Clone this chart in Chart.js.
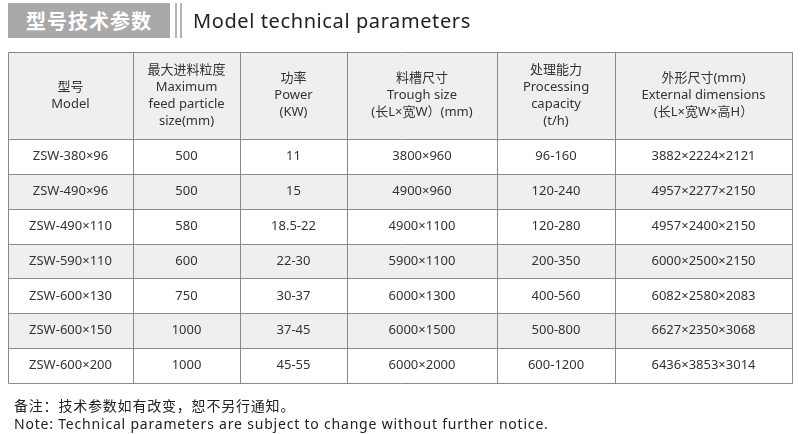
<!DOCTYPE html>
<html><head><meta charset="utf-8">
<script src="https://cdn.jsdelivr.net/npm/chart.js@4"></script>
<style>
body{margin:0;width:800px;height:434px;position:relative;background:#fff;font-family:"Noto Sans","Noto Sans CJK SC",sans-serif;color:#333;overflow:hidden}
#c{position:absolute;left:0;top:0}
.t1{position:absolute;left:8px;top:3px;width:162px;height:35px;background:#a9a9a9;color:#fff;font-size:20px;font-weight:bold;line-height:35px;text-align:center;letter-spacing:1px;font-family:"Noto Sans CJK SC",sans-serif}
.bar{position:absolute;top:3px;height:35px;width:2px;background:#b5b5b5}
.t2{position:absolute;left:193px;top:4px;font-size:20px;line-height:33px;color:#222;letter-spacing:0.6px}
.note{position:absolute;left:14px;font-size:14px;color:#222;letter-spacing:0.8px}
</style></head><body>
<canvas id="c" width="800" height="434"></canvas>
<div class="t1">型号技术参数</div><div class="bar" style="left:175px"></div><div class="bar" style="left:180px"></div>
<div class="t2">Model technical parameters</div>
<div class="note" style="top:395px">备注：技术参数如有改变，恕不另行通知。</div>
<div class="note" style="top:414px">Note: Technical parameters are subject to change without further notice.</div>
<script>
const headers=[["型号","Model"],["最大进料粒度","Maximum","feed particle","size(mm)"],["功率","Power","(KW)"],["料槽尺寸","Trough size","(长L×宽W）(mm)"],["处理能力","Processing","capacity","(t/h)"],["外形尺寸(mm)","External dimensions","(长L×宽W×高H）"]];
const models=["ZSW-380×96","ZSW-490×96","ZSW-490×110","ZSW-590×110","ZSW-600×130","ZSW-600×150","ZSW-600×200"];
const feedSize=["500","500","580","600","750","1000","1000"];
const power=["11","15","18.5-22","22-30","30-37","37-45","45-55"];
const trough=["3800×960","4900×960","4900×1100","5900×1100","6000×1300","6000×1500","6000×2000"];
const capacity=["96-160","120-240","120-280","200-350","400-560","500-800","600-1200"];
const external=["3882×2224×2121","4957×2277×2150","4957×2400×2150","6000×2500×2150","6082×2580×2083","6627×2350×3068","6436×3853×3014"];
const columns=[models,feedSize,power,trough,capacity,external];
// layout (column edges in x units, header height in row units)
const colEdges=[0,125,232,339,489,607,784];
const headerH=2.5;
const nRows=models.length;
const tablePlugin={id:'tbl',beforeDatasetsDraw(ch){
 const c=ch.ctx,x=ch.scales.x,y=ch.scales.y;
 const X=v=>Math.round(x.getPixelForValue(v))+0.5,Y=v=>Math.round(y.getPixelForValue(v))+0.5;
 c.save();
 c.fillStyle='#efefef';c.fillRect(X(0),Y(0),X(784)-X(0),Y(headerH)-Y(0));
 for(let r=0;r<nRows;r++){if(r%2===1){c.fillRect(X(0),Y(headerH+r),X(784)-X(0),Y(headerH+r+1)-Y(headerH+r));}}
 c.strokeStyle='#8a8a8a';c.lineWidth=1;c.beginPath();
 colEdges.forEach(e=>{c.moveTo(X(e),Y(0));c.lineTo(X(e),Y(headerH+nRows));});
 c.moveTo(X(0),Y(0));c.lineTo(X(784),Y(0));
 for(let r=0;r<=nRows;r++){c.moveTo(X(0),Y(headerH+r));c.lineTo(X(784),Y(headerH+r));}
 c.stroke();
 c.fillStyle='#333';c.textAlign='center';c.textBaseline='middle';
 c.font='13px "Noto Sans","Noto Sans CJK SC",sans-serif';
 headers.forEach((h,i)=>{const cx=x.getPixelForValue((colEdges[i]+colEdges[i+1])/2);const cy=y.getPixelForValue(headerH/2);const lh=17;
  h.forEach((t,k)=>c.fillText(t,cx,cy+(k-(h.length-1)/2)*lh));});
 columns.forEach((col,i)=>{const cx=x.getPixelForValue((colEdges[i]+colEdges[i+1])/2);
  col.forEach((t,r)=>c.fillText(t,cx,y.getPixelForValue(headerH+r+0.5)));});
 c.restore();}};
new Chart(document.getElementById('c'),{type:'scatter',data:{datasets:[{data:[]}]},
 options:{responsive:false,animation:false,layout:{padding:{left:8,right:8,top:52,bottom:51}},
 plugins:{legend:{display:false},tooltip:{enabled:false}},
 scales:{x:{type:'linear',min:0,max:784,display:false},y:{type:'linear',min:0,max:headerH+nRows,reverse:true,display:false}}},
 plugins:[tablePlugin]});
</script></body></html>
